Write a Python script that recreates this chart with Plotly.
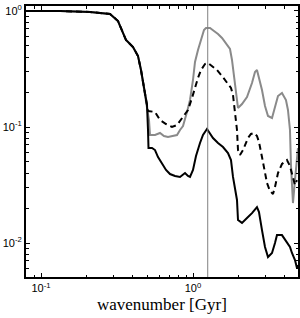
import plotly.graph_objects as go

# shared low-wavenumber part (all three spectra coincide)
common_x = [0.0796, 0.1334, 0.2101, 0.2844, 0.3210, 0.3411, 0.3624, 0.4030, 0.4346, 0.4548, 0.4759]
common_y = [1.0, 1.0, 0.980, 0.942, 0.820, 0.686, 0.562, 0.489, 0.409, 0.310, 0.217]

black_x = common_x + [0.4981, 0.5057, 0.5095, 0.5373, 0.5623, 0.5885, 0.6252, 0.6643, 0.7058, 0.7613,
                      0.8214, 0.8858, 0.9272, 0.9556, 1.0, 1.0465, 1.1119, 1.1636, 1.2361, 1.2936,
                      1.3539, 1.4605, 1.5755, 1.6993, 1.7783, 1.8332, 1.8895, 1.9477, 1.9775, 2.1012,
                      2.2663, 2.4448, 2.6367, 2.7177, 2.8446, 2.9773, 3.1158, 3.3104, 3.4640, 3.5703,
                      3.8503, 4.1528, 4.3467, 4.4802, 4.6898, 4.8329, 4.9066]
black_y = common_y + [0.155, 0.0942, 0.0659, 0.0659, 0.0633, 0.0551, 0.0480, 0.0426, 0.0393, 0.0378,
                      0.0371, 0.0401, 0.0378, 0.0371, 0.0426, 0.0562, 0.0728, 0.0853, 0.0961, 0.0888,
                      0.0804, 0.0728, 0.0672, 0.0597, 0.0519, 0.0371, 0.0286, 0.0235, 0.0158, 0.0149,
                      0.0164, 0.0181, 0.0204, 0.0185, 0.0129, 0.00924, 0.00757, 0.00820, 0.0100, 0.0117,
                      0.0117, 0.0100, 0.00924, 0.00820, 0.00713, 0.00609, 0.00646]

dashed_x = common_x + [0.4906, 0.5057, 0.5623, 0.6065, 0.6643, 0.7274, 0.7847, 0.8214, 0.8726, 0.9272,
                       0.9849, 1.0308, 1.0786, 1.1289, 1.1993, 1.2548, 1.3335, 1.4384, 1.5518, 1.6738,
                       1.7783, 1.8332, 1.8895, 1.9477, 1.9775, 2.0383, 2.1330, 2.2320, 2.3007, 2.4079,
                       2.5198, 2.6367, 2.7177, 2.8446, 2.9773, 3.0688, 3.2118, 3.3608, 3.4640, 3.6248,
                       3.8503, 4.1528, 4.3467, 4.5487, 4.6898, 4.8329]
dashed_y = common_y + [0.1778, 0.1374, 0.1347, 0.1149, 0.1061, 0.1000, 0.1040, 0.1126, 0.1244, 0.1401,
                       0.1778, 0.2212, 0.2645, 0.3100, 0.3492, 0.3562, 0.3356, 0.3100, 0.2753, 0.2443,
                       0.2169, 0.1887, 0.1401, 0.0942, 0.0633, 0.0574, 0.0633, 0.0743, 0.0804, 0.0871,
                       0.0888, 0.0837, 0.0743, 0.0551, 0.0401, 0.0329, 0.0281, 0.0264, 0.0304, 0.0401,
                       0.0480, 0.0519, 0.0461, 0.0363, 0.0316, 0.0349]

gray_x = common_x + [0.4981, 0.5134, 0.5213, 0.5623, 0.6065, 0.6445, 0.6846, 0.7274, 0.7847, 0.8214,
                     0.8594, 0.9131, 0.9556, 1.0, 1.0308, 1.0786, 1.1289, 1.1814, 1.2175, 1.2936,
                     1.3745, 1.4605, 1.5518, 1.6487, 1.7516, 1.8055, 1.8611, 1.9184, 1.9775, 2.1012,
                     2.2663, 2.4448, 2.5583, 2.6367, 2.7177, 2.8446, 2.9773, 3.1158, 3.3104, 3.4640,
                     3.6248, 3.8503, 4.0903, 4.2170, 4.3467, 4.4130, 4.4802, 4.5487, 4.6898, 4.8329,
                     4.9066]
gray_y = common_y + [0.155, 0.1149, 0.0853, 0.0853, 0.0888, 0.0837, 0.0820, 0.0837, 0.0853, 0.0942,
                     0.1020, 0.1347, 0.1709, 0.2542, 0.3634, 0.4611, 0.5623, 0.6860, 0.7136, 0.7136,
                     0.6725, 0.6335, 0.5851, 0.5194, 0.4704, 0.3781, 0.2807, 0.2084, 0.1458, 0.1578,
                     0.1814, 0.2394, 0.2979, 0.3100, 0.2645, 0.2084, 0.1517, 0.1244, 0.1196, 0.1487,
                     0.1850, 0.1964, 0.1709, 0.1401, 0.0942, 0.0470, 0.0286, 0.0221, 0.0349, 0.0519,
                     0.0659]

vline_x = 1.25

x_major = [0.1, 1]
x_major_text = ["10<sup>-1</sup>", "10<sup>0</sup>"]
x_minor = [0.09, 0.2, 0.3, 0.4, 0.5, 0.6, 0.7, 0.8, 0.9, 2, 3, 4]
y_major = [0.01, 0.1, 1]
y_major_text = ["10<sup>-2</sup>", "10<sup>-1</sup>", "10<sup>0</sup>"]
y_minor = [0.006, 0.007, 0.008, 0.009, 0.02, 0.03, 0.04, 0.05, 0.06, 0.07, 0.08, 0.09,
           0.2, 0.3, 0.4, 0.5, 0.6, 0.7, 0.8, 0.9]
x_title = "wavenumber [Gyr]"

fig = go.Figure()
fig.add_trace(go.Scatter(x=gray_x, y=gray_y, mode="lines",
                         line=dict(color="#8a8a8a", width=2), showlegend=False))
fig.add_trace(go.Scatter(x=dashed_x, y=dashed_y, mode="lines",
                         line=dict(color="black", width=2, dash="6px,4px"), showlegend=False))
fig.add_trace(go.Scatter(x=black_x, y=black_y, mode="lines",
                         line=dict(color="black", width=2), showlegend=False))

fig.add_shape(type="line", xref="x", yref="paper", x0=vline_x, x1=vline_x, y0=0, y1=1,
              line=dict(color="#808080", width=1))

axis_common = dict(type="log", showgrid=False, zeroline=False, showline=True, linecolor="black",
                   linewidth=2, mirror="ticks", ticks="inside", ticklen=4, tickwidth=1,
                   tickcolor="black", automargin=False,
                   tickfont=dict(family="Liberation Sans, Arial", size=11, color="black"))

fig.update_xaxes(**axis_common, range=[-1.099, 0.691], tickmode="array", tickvals=x_major,
                 ticktext=x_major_text,
                 minor=dict(tickmode="array", tickvals=x_minor, ticks="inside", ticklen=2.5,
                            tickcolor="black", tickwidth=1))
fig.update_yaxes(**axis_common, range=[-2.293, 0.043], tickmode="array", tickvals=y_major,
                 ticktext=y_major_text,
                 minor=dict(tickmode="array", tickvals=y_minor, ticks="inside", ticklen=2.5,
                            tickcolor="black", tickwidth=1))

fig.add_annotation(text=x_title, xref="paper", yref="paper", x=0.5, y=-0.103,
                   xanchor="center", yanchor="middle", showarrow=False,
                   font=dict(family="Liberation Serif, Times New Roman", size=17, color="black"))

fig.update_layout(width=300, height=318, margin=dict(l=26, r=2, t=6, b=41),
                  plot_bgcolor="white", paper_bgcolor="white")

fig.write_html("out.html", config={"displayModeBar": False},
               post_script="document.body.style.margin='0';document.body.style.padding='0';")
